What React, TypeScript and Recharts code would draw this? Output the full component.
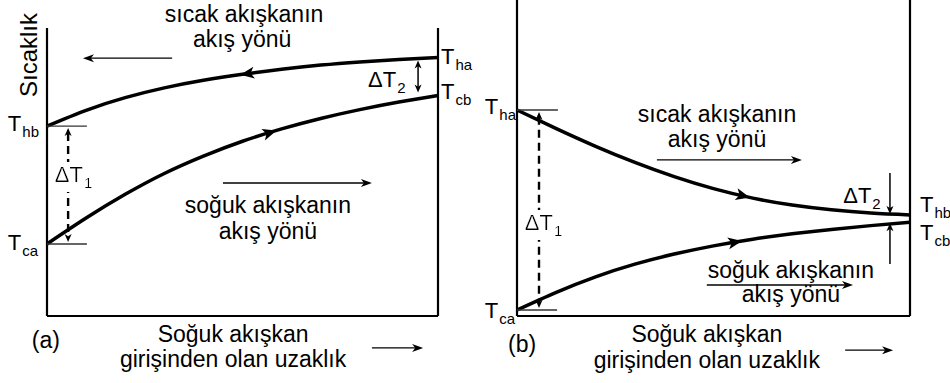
import React from 'react';
import { LineChart, Line, XAxis, YAxis, ReferenceLine, ReferenceDot } from 'recharts';

const FONT = '"Liberation Sans", Arial, Helvetica, sans-serif';

// distance from the cold fluid inlet, % of exchanger length
const distance = [0, 10, 20, 30, 40, 50, 60, 70, 80, 90, 100];

// (a) counter flow temperatures
const hotCounter = [60.1, 65.1, 69.1, 72.2, 74.6, 76.5, 78.1, 79.4, 80.4, 81.2, 81.8];
const coldCounter = [22.8, 31.0, 38.5, 45.1, 50.6, 55.3, 59.2, 62.5, 65.3, 67.7, 69.8];

// (b) parallel flow temperatures
const hotParallel = [65.2, 59.3, 53.7, 48.6, 44.1, 40.3, 37.3, 35.1, 33.6, 32.6, 32.0];
const coldParallel = [1.9, 7.5, 12.4, 16.4, 19.6, 22.2, 24.3, 26.0, 27.4, 28.6, 29.7];

type Seg = {
  x1: number; y1: number; x2: number; y2: number;
  head?: 'none' | 'end' | 'both';
  dash?: string; w?: number; color?: string; inset?: number; big?: boolean;
};
type Note = {
  x: number; y: number; text: string; sub?: string;
  anchor?: 'start' | 'middle' | 'end'; dx?: number; dy?: number;
  size?: number; rotate?: number; bg?: boolean;
};
type Head = { x: number; angle: number; curve: 'hot' | 'cold' };

// linear lookup along a series, used to sit the direction heads on the curves
const along = (ys: number[], x: number) => {
  const i = Math.min(distance.length - 2, Math.floor(x / 10));
  const t = (x - distance[i]) / (distance[i + 1] - distance[i]);
  return ys[i] + (ys[i + 1] - ys[i]) * t;
};

const headPath = (tx: number, ty: number, ux: number, uy: number, len: number, half: number) => {
  const bx = tx - ux * len;
  const by = ty - uy * len;
  const nx = -uy;
  const ny = ux;
  const mx = tx - ux * len * 0.72;
  const my = ty - uy * len * 0.72;
  return `M${tx},${ty} L${bx + nx * half},${by + ny * half} L${mx},${my} L${bx - nx * half},${by - ny * half} Z`;
};

const segShape = (s: Seg) => (p: any) => {
  let { x1, y1, x2, y2 } = p;
  const dx = x2 - x1;
  const dy = y2 - y1;
  const d = Math.hypot(dx, dy) || 1;
  const ux = dx / d;
  const uy = dy / d;
  const inset = s.inset || 0;
  if (inset) {
    x1 += ux * inset; y1 += uy * inset;
    x2 -= ux * inset; y2 -= uy * inset;
  }
  const head = s.head || 'none';
  const len = s.big ? 11 : 8;
  const half = s.big ? 4 : 3.5;
  const lx1 = head === 'both' ? x1 + ux * len * 0.6 : x1;
  const ly1 = head === 'both' ? y1 + uy * len * 0.6 : y1;
  const lx2 = head !== 'none' ? x2 - ux * len * 0.6 : x2;
  const ly2 = head !== 'none' ? y2 - uy * len * 0.6 : y2;
  const color = s.color || '#000';
  return (
    <g>
      <line x1={lx1} y1={ly1} x2={lx2} y2={ly2} stroke={color} strokeWidth={s.w || 1.4} strokeDasharray={s.dash} />
      {head !== 'none' && <path d={headPath(x2, y2, ux, uy, len, half)} fill={color} />}
      {head === 'both' && <path d={headPath(x1, y1, -ux, -uy, len, half)} fill={color} />}
    </g>
  );
};

const noteShape = (n: Note) => (p: any) => {
  const x = p.cx + (n.dx || 0);
  const y = p.cy + (n.dy || 0);
  return (
    <text
      x={x}
      y={y}
      textAnchor={n.anchor || 'middle'}
      fontSize={n.size || 23}
      fontFamily={FONT}
      fill="#000"
      filter={n.bg ? 'url(#textBg)' : undefined}
      transform={n.rotate ? `rotate(${n.rotate} ${x} ${y})` : undefined}
    >
      {n.text}
      {n.sub && <tspan fontSize={15} dx={1} dy={6}>{n.sub}</tspan>}
    </text>
  );
};

const curveHead = (angle: number) => (p: any) => (
  <path transform={`translate(${p.cx} ${p.cy}) rotate(${angle})`} d="M7,0 L-7,-6 L-3.5,0 L-7,6 Z" fill="#000" />
);

// (a) annotations
const segsA: Seg[] = [
  { x1: 0, y1: 0, x2: 0, y2: 91.1, w: 2.2 },
  { x1: 100, y1: 0, x2: 100, y2: 91.1, w: 2.2 },
  { x1: 0, y1: 0, x2: 100, y2: 0, w: 2.2 },
  { x1: 0, y1: hotCounter[0], x2: 10.2, y2: hotCounter[0], color: '#333' },
  { x1: 0, y1: coldCounter[0], x2: 10.2, y2: coldCounter[0], color: '#333' },
  { x1: 5.4, y1: hotCounter[0], x2: 5.4, y2: coldCounter[0], head: 'both', dash: '8 5', w: 2.4, inset: 2 },
  { x1: 94.9, y1: hotCounter[10], x2: 94.9, y2: coldCounter[10], head: 'both', w: 1.5, inset: 3 },
  { x1: 32, y1: 81.6, x2: 9.2, y2: 81.6, head: 'end', big: true },
  { x1: 45, y1: 42.1, x2: 83.1, y2: 42.1, head: 'end', big: true },
  { x1: 83.1, y1: -10.1, x2: 96.2, y2: -10.1, head: 'end', big: true },
];
const headsA: Head[] = [
  { x: 51.2, angle: 172, curve: 'hot' },
  { x: 57, angle: -17, curve: 'cold' },
];
const notesA: Note[] = [
  { x: 50.4, y: 93.0, text: 'sıcak akışkanın' },
  { x: 49.9, y: 85.1, text: 'akış yönü' },
  { x: 56.5, y: 32.6, text: 'soğuk akışkanın' },
  { x: 56.5, y: 24.4, text: 'akış yönü' },
  { x: 47.6, y: -8.2, text: 'Soğuk akışkan' },
  { x: 47.6, y: -16.1, text: 'girişinden olan uzaklık' },
  { x: -0.3, y: -10.1, text: '(a)' },
  { x: -2.6, y: 82.6, text: 'Sıcaklık', rotate: -90, size: 24 },
  { x: 2.0, y: 42.4, text: 'ΔT', sub: '1', anchor: 'start', size: 22, bg: true },
  { x: 82.1, y: 72.5, text: 'ΔT', sub: '2', anchor: 'start', size: 22 },
  { x: 0, y: hotCounter[0], text: 'T', sub: 'hb', anchor: 'end', dx: -8, dy: 5, size: 22 },
  { x: 0, y: coldCounter[0], text: 'T', sub: 'ca', anchor: 'end', dx: -9, dy: 6, size: 22 },
  { x: 100, y: hotCounter[10], text: 'T', sub: 'ha', anchor: 'start', dx: 3, dy: 6, size: 22 },
  { x: 100, y: coldCounter[10], text: 'T', sub: 'cb', anchor: 'start', dx: 3, dy: 4, size: 22 },
];

// (b) annotations
const segsB: Seg[] = [
  { x1: 0, y1: 0, x2: 0, y2: 100, w: 2.2 },
  { x1: 100, y1: 0, x2: 100, y2: 100, w: 2.2 },
  { x1: 0, y1: 0, x2: 100, y2: 0, w: 2.2 },
  { x1: 0, y1: hotParallel[0], x2: 10.4, y2: hotParallel[0], color: '#333' },
  { x1: 0, y1: coldParallel[0], x2: 10.2, y2: coldParallel[0], color: '#333' },
  { x1: 5.6, y1: hotParallel[0], x2: 5.6, y2: coldParallel[0], head: 'both', dash: '8 5', w: 2.4, inset: 2 },
  { x1: 94.9, y1: 45.6, x2: 94.9, y2: hotParallel[10], head: 'end', w: 1.5, inset: 1 },
  { x1: 94.9, y1: 16.1, x2: 94.9, y2: coldParallel[10], head: 'end', w: 1.5, inset: 1 },
  { x1: 35.6, y1: 49.4, x2: 72.5, y2: 49.4, head: 'end', big: true },
  { x1: 48.3, y1: 9.8, x2: 85.5, y2: 9.8, head: 'end', big: true },
  { x1: 83.5, y1: -10.8, x2: 95.7, y2: -10.8, head: 'end', big: true },
];
const headsB: Head[] = [
  { x: 57.5, angle: 14, curve: 'hot' },
  { x: 55.5, angle: -10, curve: 'cold' },
];
const notesB: Note[] = [
  { x: 50.9, y: 61.4, text: 'sıcak akışkanın' },
  { x: 50.9, y: 53.5, text: 'akış yönü' },
  { x: 69.7, y: 12.0, text: 'soğuk akışkanın' },
  { x: 69.7, y: 4.4, text: 'akış yönü' },
  { x: 48.3, y: -8.2, text: 'Soğuk akışkan' },
  { x: 48.3, y: -16.5, text: 'girişinden olan uzaklık' },
  { x: 1.3, y: -11.4, text: '(b)' },
  { x: 2.0, y: 27.2, text: 'ΔT', sub: '1', anchor: 'start', size: 22, bg: true },
  { x: 83.0, y: 35.8, text: 'ΔT', sub: '2', anchor: 'start', size: 22 },
  { x: 0, y: hotParallel[0], text: 'T', sub: 'ha', anchor: 'end', dx: -1, dy: 4, size: 22 },
  { x: 0, y: coldParallel[0], text: 'T', sub: 'ca', anchor: 'end', dx: -2, dy: 8, size: 22 },
  { x: 100, y: hotParallel[10], text: 'T', sub: 'hb', anchor: 'start', dx: 10, dy: -3, size: 22 },
  { x: 100, y: coldParallel[10], text: 'T', sub: 'cb', anchor: 'start', dx: 10, dy: 18, size: 22 },
];

type PanelProps = {
  hot: number[];
  cold: number[];
  left: number;
  right: number;
  segs: Seg[];
  heads: Head[];
  notes: Note[];
};

function Panel({ hot, cold, left, right, segs, heads, notes }: PanelProps) {
  const rows = distance.map((d, i) => ({ d, hot: hot[i], cold: cold[i] }));
  return (
    <LineChart width={475} height={383} data={rows} margin={{ top: 0, right, bottom: 67, left }}>
      <XAxis dataKey="d" type="number" domain={[0, 100]} hide />
      <YAxis type="number" domain={[0, 100]} allowDataOverflow hide />
      <Line dataKey="hot" type="natural" stroke="#000" strokeWidth={3.5} dot={false} isAnimationActive={false} />
      <Line dataKey="cold" type="natural" stroke="#000" strokeWidth={3.5} dot={false} isAnimationActive={false} />
      {segs.map((s, i) => (
        <ReferenceLine
          key={`s${i}`}
          segment={[{ x: s.x1, y: s.y1 }, { x: s.x2, y: s.y2 }]}
          ifOverflow="visible"
          shape={segShape(s)}
        />
      ))}
      {heads.map((h, i) => (
        <ReferenceDot
          key={`h${i}`}
          x={h.x}
          y={along(h.curve === 'hot' ? hot : cold, h.x)}
          r={1}
          ifOverflow="visible"
          shape={curveHead(h.angle)}
        />
      ))}
      {notes.map((n, i) => (
        <ReferenceDot key={`n${i}`} x={n.x} y={n.y} r={1} ifOverflow="visible" shape={noteShape(n)} />
      ))}
    </LineChart>
  );
}

export default function App() {
  return (
    <div style={{ position: 'absolute', left: 0, top: 0, width: 950, height: 383, background: '#fff', fontFamily: FONT }}>
      <svg width={0} height={0} style={{ position: 'absolute' }}>
        <defs>
          <filter id="textBg" x="0" y="0" width="1" height="1">
            <feFlood floodColor="#fff" />
            <feMerge>
              <feMergeNode />
              <feMergeNode in="SourceGraphic" />
            </feMerge>
          </filter>
        </defs>
      </svg>
      <div style={{ position: 'absolute', left: 0, top: 0 }}>
        <Panel hot={hotCounter} cold={coldCounter} left={47} right={37} segs={segsA} heads={headsA} notes={notesA} />
      </div>
      <div style={{ position: 'absolute', left: 475, top: 0 }}>
        <Panel hot={hotParallel} cold={coldParallel} left={42} right={40} segs={segsB} heads={headsB} notes={notesB} />
      </div>
    </div>
  );
}
